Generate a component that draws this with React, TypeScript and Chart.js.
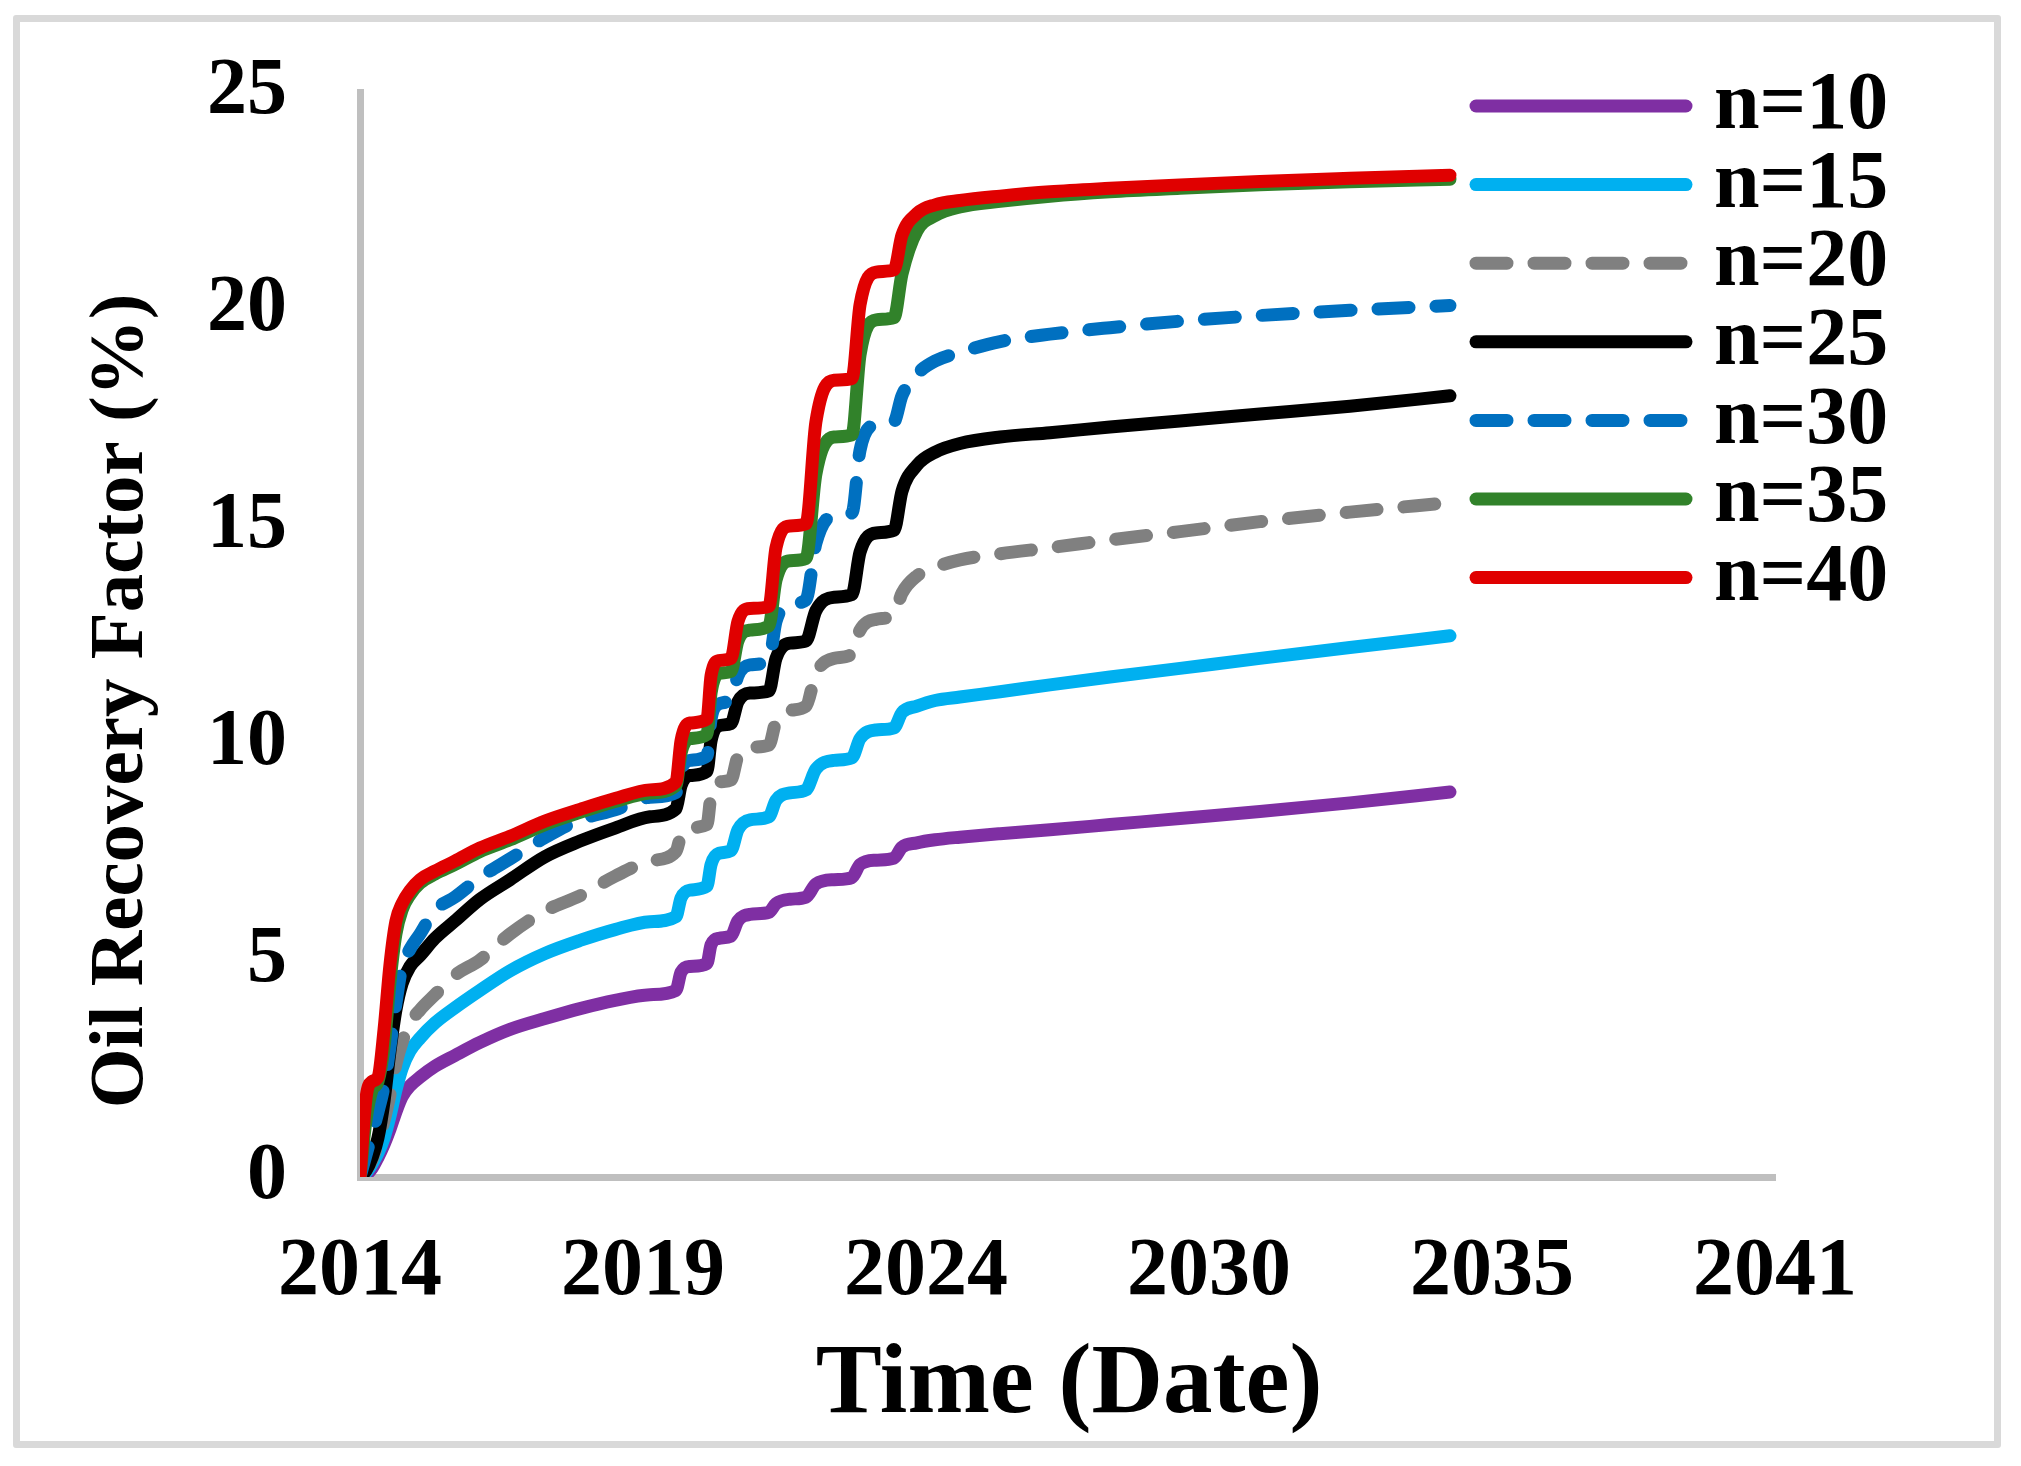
import React, { useEffect, useRef } from 'react';
import { Chart, registerables } from 'chart.js';

Chart.register(...registerables);

// x values: days since the first date (axis runs 0..10000 days, major unit 2000 days)
const xTickLabels = ['2014', '2019', '2024', '2030', '2035', '2041'];

const days = [
  0, 42, 85, 127, 170, 212, 254, 297, 353, 424, 530, 671, 848, 1060, 1307, 1555, 1802, 2049,
  2233, 2269, 2332, 2452, 2481, 2537, 2622, 2671, 2756, 2890, 2940, 3039, 3152, 3222, 3350,
  3477, 3534, 3647, 3774, 3830, 3936,
  4064, 4240, 4523, 4876, 5300, 5795, 6360, 6996, 7703,
];

const n10 = [
  0, 0.05, 0.2, 0.45, 0.75, 1.1, 1.5, 1.85, 2.1, 2.3, 2.55, 2.8, 3.1, 3.4, 3.65, 3.88, 4.07, 4.2, 4.3,
  4.72, 4.85, 4.92, 5.35, 5.5, 5.55, 5.9, 6.05, 6.1, 6.3, 6.4, 6.45, 6.75, 6.85, 6.9, 7.2, 7.3, 7.35, 7.6, 7.7,
  7.77, 7.83, 7.91, 8.0, 8.12, 8.26, 8.42, 8.62, 8.87,
];
const n15 = [
  0, 0.1, 0.3, 0.55, 0.9, 1.4, 2.0, 2.5, 2.9, 3.2, 3.55, 3.9, 4.3, 4.75, 5.15, 5.45, 5.7, 5.88, 6.0,
  6.43, 6.61, 6.7, 7.2, 7.46, 7.52, 8.0, 8.23, 8.3, 8.68, 8.85, 8.92, 9.4, 9.6, 9.66, 10.1, 10.3, 10.35, 10.7, 10.85,
  10.98, 11.06, 11.18, 11.34, 11.52, 11.72, 11.95, 12.2, 12.47,
];
const n20 = [
  0, 0.15, 0.4, 0.8, 1.3, 1.9, 2.6, 3.1, 3.55, 3.85, 4.2, 4.65, 5.0, 5.6, 6.13, 6.48, 6.93, 7.28, 7.5,
  7.88, 8.05, 8.12, 8.8, 9.1, 9.15, 9.7, 9.9, 9.95, 10.5, 10.75, 10.85, 11.6, 11.95, 12.05, 12.6, 12.85, 12.95, 13.45, 13.85,
  14.05, 14.22, 14.36, 14.5, 14.68, 14.87, 15.1, 15.32, 15.54,
];
const n25 = [
  0, 0.15, 0.45, 0.9, 1.75, 2.9, 3.85, 4.45, 4.85, 5.1, 5.5, 5.9, 6.4, 6.85, 7.38, 7.74, 8.04, 8.3, 8.48,
  9.02, 9.25, 9.35, 10.05, 10.4, 10.45, 10.95, 11.15, 11.2, 11.95, 12.3, 12.35, 13.05, 13.36, 13.42, 14.4, 14.84, 14.9, 15.8, 16.4,
  16.7, 16.9, 17.05, 17.15, 17.28, 17.42, 17.58, 17.76, 18.0,
];
const n30 = [
  0, 0.5, 1.0, 1.5, 2.1, 3.0, 4.0, 4.85, 5.25, 5.6, 6.15, 6.45, 6.9, 7.33, 7.82, 8.23, 8.46, 8.75, 8.86,
  9.38, 9.6, 9.7, 10.55, 10.9, 11.0, 11.55, 11.8, 11.9, 12.8, 13.2, 13.3, 14.6, 15.25, 15.3, 16.75, 17.33, 17.4, 18.0, 18.5,
  18.8, 19.0, 19.25, 19.42, 19.57, 19.72, 19.85, 19.97, 20.08,
];
const n35 = [
  0, 1.3, 2.0, 2.2, 3.0, 4.5, 5.6, 6.15, 6.5, 6.77, 6.98, 7.2, 7.5, 7.77, 8.12, 8.4, 8.65, 8.85, 9.02,
  9.77, 10.1, 10.2, 11.15, 11.6, 11.65, 12.35, 12.6, 12.7, 13.75, 14.2, 14.25, 16.2, 17.05, 17.1, 18.95, 19.75, 19.8, 20.8, 21.8,
  22.15, 22.35, 22.48, 22.6, 22.7, 22.78, 22.86, 22.93, 22.99,
];
const n40 = [
  0, 1.8, 2.2, 2.3, 3.4, 4.9, 5.9, 6.3, 6.6, 6.85, 7.05, 7.28, 7.58, 7.85, 8.2, 8.47, 8.72, 8.92, 9.1,
  10.06, 10.46, 10.55, 11.55, 11.9, 11.95, 12.8, 13.1, 13.15, 14.5, 15.0, 15.05, 17.4, 18.36, 18.4, 20.1, 20.85, 20.9, 21.7, 22.2,
  22.4, 22.5, 22.6, 22.7, 22.78, 22.86, 22.94, 23.01, 23.08,
];

const seriesLabels = ['n=10', 'n=15', 'n=20', 'n=25', 'n=30', 'n=35', 'n=40'];
const seriesValues = [n10, n15, n20, n25, n30, n35, n40];
const seriesColors = ['#7F2FA3', '#00B0F0', '#808080', '#000000', '#0070C0', '#31822A', '#E00000'];
const seriesDashed = [false, false, true, false, true, false, false];

const FONT = '"Liberation Serif", "Times New Roman", serif';

const overlayPlugin = {
  id: 'overlayPlugin',
  afterDraw(chart: any) {
    const ctx = chart.ctx as CanvasRenderingContext2D;
    ctx.save();
    // legend
    chart.data.datasets.forEach((ds: any, i: number) => {
      const y = 106 + i * 78.6;
      ctx.beginPath();
      ctx.strokeStyle = ds.borderColor;
      ctx.lineWidth = 13;
      ctx.lineCap = 'round';
      ctx.setLineDash(ds.borderDash || []);
      ctx.moveTo(1476, y);
      ctx.lineTo(1686, y);
      ctx.stroke();
      ctx.setLineDash([]);
      ctx.fillStyle = '#000';
      ctx.font = `bold 82px ${FONT}`;
      ctx.textBaseline = 'middle';
      ctx.textAlign = 'left';
      ctx.fillText(ds.label, 1714, y + 1);
    });
    // x axis title
    ctx.fillStyle = '#000';
    ctx.font = `bold 99px ${FONT}`;
    ctx.textAlign = 'center';
    ctx.textBaseline = 'alphabetic';
    ctx.fillText('Time (Date)', 1069, 1412);
    // y axis title
    ctx.translate(142, 701);
    ctx.rotate(-Math.PI / 2);
    ctx.font = `bold 77px ${FONT}`;
    ctx.fillText('Oil Recovery Factor (%)', 0, 0);
    ctx.restore();
  },
};

export default function App() {
  const canvasRef = useRef<HTMLCanvasElement | null>(null);

  useEffect(() => {
    if (!canvasRef.current) return;
    const datasets = seriesLabels.map((label, i) => ({
      label,
      data: days.map((d, k) => ({ x: d, y: seriesValues[i][k] })),
      borderColor: seriesColors[i],
      backgroundColor: seriesColors[i],
      borderWidth: 13,
      borderCapStyle: 'round' as const,
      borderJoinStyle: 'round' as const,
      borderDash: seriesDashed[i] ? [31, 27] : [],
      pointRadius: 0,
      fill: false,
      cubicInterpolationMode: 'monotone' as const,
      order: seriesLabels.length - 1 - i,
    }));

    const chart = new Chart(canvasRef.current, {
      type: 'line',
      data: { datasets },
      options: {
        responsive: false,
        animation: false,
        devicePixelRatio: 1,
        layout: { padding: { left: 0, top: 92, right: 246, bottom: 0 } },
        plugins: {
          legend: { display: false },
          tooltip: { enabled: false },
          title: { display: false },
        },
        scales: {
          x: {
            type: 'linear',
            min: 0,
            max: 10000,
            afterFit: (s: any) => {
              s.height = 289;
            },
            grid: { display: false, drawTicks: false },
            border: { display: true, color: '#bfbfbf', width: 7 },
            ticks: {
              stepSize: 2000,
              padding: 47,
              color: '#000',
              maxRotation: 0,
              autoSkip: false,
              font: { family: FONT, weight: 'bold', size: 82 },
              callback: (v: any) => xTickLabels[Math.round(Number(v) / 2000)] ?? '',
            },
          },
          y: {
            type: 'linear',
            min: 0,
            max: 25,
            afterFit: (s: any) => {
              s.width = 360;
              s.paddingTop = 30;
              s.paddingBottom = 30;
            },
            grid: { display: false, drawTicks: false },
            border: { display: true, color: '#bfbfbf', width: 7 },
            ticks: {
              stepSize: 5,
              padding: 73,
              color: '#000',
              font: { family: FONT, weight: 'bold', size: 80 },
            },
          },
        },
      },
      plugins: [overlayPlugin],
    });
    return () => chart.destroy();
  }, []);

  return (
    <div style={{ position: 'fixed', left: 0, top: 0, width: 2021, height: 1466, background: '#fff' }}>
      <canvas ref={canvasRef} width={2021} height={1466} style={{ position: 'absolute', left: 0, top: 0 }} />
      <div
        style={{
          position: 'absolute',
          left: 13,
          top: 15,
          width: 1988,
          height: 1433,
          boxSizing: 'border-box',
          border: '7px solid #d9d9d9',
          borderRadius: 3,
          pointerEvents: 'none',
        }}
      />
    </div>
  );
}
